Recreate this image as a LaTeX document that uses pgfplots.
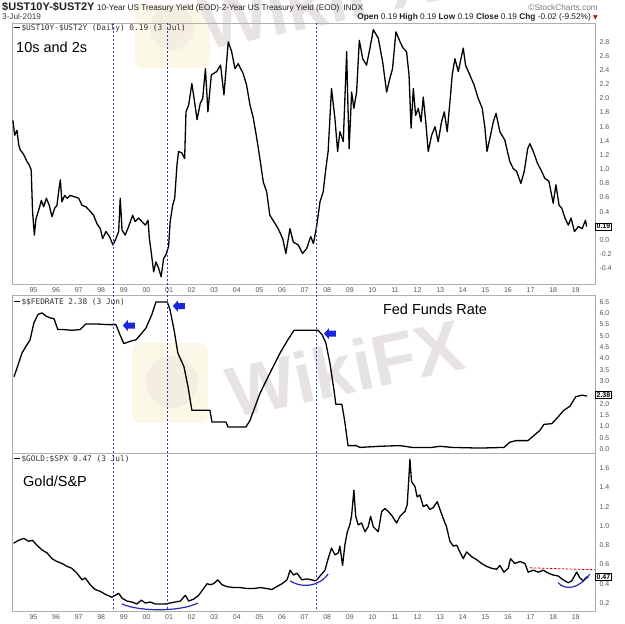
\documentclass[border=0pt]{standalone}
\usepackage{pgfplots}
\pgfplotsset{compat=1.18}
\usepackage{fontspec}
\setmainfont{Liberation Sans}
\newfontfamily\mono{DejaVu Sans Mono}
\newfontfamily\dejavu{DejaVu Sans}
\definecolor{frame}{RGB}{175,175,175}
\definecolor{ticktext}{RGB}{85,85,85}
\definecolor{navy}{RGB}{50,50,195}
\definecolor{arrowblue}{RGB}{25,40,220}
\definecolor{arcblue}{RGB}{40,40,185}
\definecolor{wm}{RGB}{231,227,227}
\definecolor{wmy}{RGB}{252,248,232}
\definecolor{wmc}{RGB}{244,238,225}
\definecolor{legtext}{RGB}{50,50,50}

\pgfplotsset{
  panel/.style={
    scale only axis, width=583pt, anchor=south west,
    xmin=1994.05, xmax=2019.85,
    axis line style={frame, line width=0.5pt},
    major tick length=0pt,
    tick style={draw=none},
    yticklabel pos=right,
    yticklabel style={font=\fontsize{7}{8}\selectfont, text=ticktext, anchor=west, xshift=1pt,
      /pgf/number format/.cd, fixed, fixed zerofill, precision=1},
    xticklabel style={font=\fontsize{7}{8}\selectfont, text=ticktext},
    /pgf/number format/assume math mode=true,
    xtick={1995,...,2019},
    xticklabels={95,96,97,98,99,00,01,02,03,04,05,06,07,08,09,10,11,12,13,14,15,16,17,18,19},
    clip=false,
  },
  dataline/.style={black, line width=1.3pt, line join=round},
}

\begin{document}
\begin{tikzpicture}
\useasboundingbox (0,0) rectangle (624pt,624pt);

% watermarks
\fill[wmy, rounded corners=8pt] (132pt,201pt) rectangle (208pt,281pt);
\fill[wmc] (172pt,242pt) circle (26pt);
\node[rotate=12, font=\fontsize{72}{72}\selectfont\bfseries, text=wm, inner sep=0] at (345pt,256pt) {WikiFX};
\fill[wmy, rounded corners=8pt] (135pt,556pt) rectangle (210pt,620pt);
\fill[wmc] (172pt,596pt) circle (22pt);
\node[rotate=12, font=\fontsize{72}{72}\selectfont\bfseries, text=wm, inner sep=0] at (318pt,624pt) {WikiFX};

% header
\node[anchor=base west, inner sep=0, text={rgb,255:red,30;green,30;blue,30}] at (2pt,613pt)
  {{\fontsize{11}{12}\selectfont\bfseries \$UST10Y-\$UST2Y}\hspace{2.5pt}{\fontsize{8.2}{9}\selectfont 10-Year US Treasury Yield (EOD)-2-Year US Treasury Yield (EOD)\hspace{4pt}INDX}};
\node[anchor=base east, inner sep=0, text={rgb,255:red,120;green,120;blue,120}] at (598pt,613pt)
  {\fontsize{8.3}{9}\selectfont \textcopyright StockCharts.com};
\node[anchor=base west, inner sep=0, text={rgb,255:red,60;green,60;blue,60}] at (2pt,604pt)
  {\fontsize{8.2}{9}\selectfont 3-Jul-2019};
\node[anchor=base east, inner sep=0, text={rgb,255:red,30;green,30;blue,30}] at (598pt,604pt)
  {\fontsize{8.3}{9}\selectfont \textbf{Open} 0.19 \textbf{High} 0.19 \textbf{Low} 0.19 \textbf{Close} 0.19 \textbf{Chg} -0.02 (-9.52\%) {\dejavu\fontsize{6}{7}\selectfont\color{red!80!black}▼}};

% ---------- top panel: 10s - 2s ----------
\begin{axis}[panel, at={(12pt,340pt)}, height=261pt,
  ymin=-0.621, ymax=3.065,
  ytick={-0.4,-0.2,0,0.4,0.6,0.8,1,1.2,1.4,1.6,1.8,2,2.2,2.4,2.6,2.8}]
\addplot[dataline] coordinates {
(1994.09,1.69) (1994.17,1.48) (1994.27,1.55) (1994.35,1.34) (1994.42,1.27) (1994.52,1.23) (1994.61,1.18)
(1994.71,1.11) (1994.81,1.06) (1994.90,0.99) (1994.96,0.40) (1995.04,0.07) (1995.11,0.30) (1995.23,0.42)
(1995.35,0.56) (1995.45,0.47) (1995.57,0.59) (1995.70,0.49) (1995.82,0.33) (1995.94,0.45) (1996.04,0.49)
(1996.12,0.70) (1996.19,0.85) (1996.26,0.54) (1996.38,0.63) (1996.49,0.59) (1996.63,0.63) (1996.82,0.61)
(1997.00,0.59) (1997.15,0.49) (1997.32,0.47) (1997.47,0.42) (1997.66,0.35) (1997.81,0.23) (1997.96,0.16)
(1998.06,0.02) (1998.21,0.12) (1998.36,0.05) (1998.52,-0.07) (1998.65,0.02) (1998.77,0.12) (1998.84,0.59)
(1998.92,0.14) (1999.06,0.07) (1999.21,0.19) (1999.39,0.35) (1999.50,0.26) (1999.65,0.31) (1999.80,0.26)
(1999.95,0.21) (2000.07,0.28) (2000.13,0.02) (2000.21,-0.17) (2000.32,-0.45) (2000.42,-0.31) (2000.54,-0.40)
(2000.65,-0.52) (2000.76,-0.26) (2000.86,-0.21) (2000.98,-0.09) (2001.05,0.26) (2001.16,0.49) (2001.25,0.59)
(2001.35,1.06) (2001.42,1.25) (2001.57,1.23) (2001.69,1.15) (2001.75,1.81) (2001.87,1.91) (2002.01,2.21)
(2002.13,1.95) (2002.24,1.70) (2002.38,1.93) (2002.49,2.00) (2002.61,2.42) (2002.72,1.81) (2002.87,2.33)
(2003.11,2.38) (2003.28,2.47) (2003.43,2.05) (2003.62,2.80) (2003.77,2.66) (2003.92,2.42) (2004.06,2.49)
(2004.28,2.35) (2004.43,2.19) (2004.58,1.91) (2004.73,1.72) (2004.88,1.44) (2005.02,1.15) (2005.17,0.82)
(2005.32,0.68) (2005.46,0.35) (2005.64,0.26) (2005.83,0.16) (2006.03,0.02) (2006.17,-0.19) (2006.35,0.16)
(2006.50,-0.03) (2006.72,-0.07) (2006.91,-0.19) (2007.09,-0.12) (2007.27,0.05) (2007.39,-0.05) (2007.54,0.21)
(2007.68,0.54) (2007.82,0.68) (2007.94,1.01) (2008.04,1.25) (2008.19,2.14) (2008.34,1.72) (2008.46,1.25)
(2008.56,1.53) (2008.71,1.39) (2008.86,2.66) (2008.90,2.09) (2008.97,1.29) (2009.08,2.09) (2009.18,1.86)
(2009.30,2.09) (2009.42,2.82) (2009.57,2.56) (2009.74,2.47) (2009.89,2.71) (2010.04,2.97) (2010.26,2.85)
(2010.45,2.52) (2010.63,2.09) (2010.77,2.28) (2010.89,2.42) (2011.04,2.94) (2011.22,2.80) (2011.36,2.71)
(2011.51,2.66) (2011.62,2.33) (2011.71,1.58) (2011.81,2.14) (2011.91,1.76) (2012.03,1.86) (2012.15,1.67)
(2012.25,2.02) (2012.36,1.67) (2012.47,1.25) (2012.62,1.48) (2012.77,1.60) (2012.91,1.39) (2013.06,1.67)
(2013.18,1.81) (2013.31,1.53) (2013.43,1.95) (2013.53,2.33) (2013.65,2.56) (2013.80,2.38) (2013.95,2.61)
(2014.02,2.71) (2014.12,2.47) (2014.31,2.33) (2014.50,2.19) (2014.68,2.00) (2014.86,1.86) (2014.98,1.58)
(2015.07,1.25) (2015.20,1.44) (2015.35,1.67) (2015.47,1.79) (2015.64,1.53) (2015.86,1.41) (2016.08,1.11)
(2016.23,1.01) (2016.38,0.97) (2016.57,0.80) (2016.72,0.97) (2016.87,1.29) (2016.97,1.36) (2017.12,1.25)
(2017.31,1.08) (2017.49,0.97) (2017.63,0.87) (2017.81,0.83) (2018.00,0.52) (2018.12,0.78) (2018.26,0.49)
(2018.38,0.45) (2018.52,0.31) (2018.67,0.21) (2018.79,0.31) (2018.94,0.12) (2019.12,0.19) (2019.28,0.16)
(2019.43,0.28) (2019.48,0.19)
};
\coordinate (v1t) at (axis cs:1998.54,3.065);
\coordinate (v2t) at (axis cs:2000.92,3.065);
\coordinate (v3t) at (axis cs:2007.52,3.065);
\node[draw=black, fill=white, inner sep=1pt, anchor=west, font=\fontsize{7}{8}\selectfont\bfseries] at (axis cs:2019.87,0.19) {0.19};
\end{axis}
\node[anchor=west, inner sep=0, text=legtext, font=\mono\fontsize{7.8}{8}\selectfont] at (14pt,596pt)
  {\textcolor{black}{\rule[0.28em]{6pt}{1.3pt}}\,\$UST10Y-\$UST2Y (Daily) 0.19 (3 Jul)};
\node[anchor=west, inner sep=0, font=\fontsize{14.5}{16}\selectfont] at (16pt,577pt) {10s and 2s};

% ---------- middle panel: Fed funds ----------
\begin{axis}[panel, at={(12pt,171pt)}, height=158pt,
  ymin=-0.177, ymax=6.81, xticklabels={},
  ytick={0,0.5,1,1.5,2,3,3.5,4,4.5,5,5.5,6,6.5}]
\addplot[dataline] coordinates {
(1994.14,3.20) (1994.32,3.72) (1994.49,4.24) (1994.67,4.54) (1994.85,4.83) (1995.02,5.58)
(1995.20,5.95) (1995.38,6.02) (1995.55,5.88) (1995.73,5.80) (1995.91,5.76) (1996.08,5.28)
(1996.35,5.28) (1996.70,5.25) (1997.06,5.28) (1997.32,5.53) (1997.76,5.53) (1998.30,5.50)
(1998.65,5.50) (1998.83,5.05) (1999.00,4.66) (1999.27,4.76) (1999.54,4.83) (1999.80,5.13)
(1999.98,5.35) (2000.24,5.95) (2000.42,6.50) (2000.92,6.50) (2001.04,6.17) (2001.22,5.28)
(2001.39,4.24) (2001.66,3.64) (2001.84,2.75) (2002.01,1.71) (2002.81,1.71) (2002.90,1.19)
(2003.52,1.19) (2003.61,0.97) (2004.40,0.97) (2004.58,1.26) (2005.02,2.45) (2005.46,3.35)
(2005.91,4.24) (2006.26,4.83) (2006.53,5.25) (2007.59,5.25) (2007.77,5.06) (2007.94,4.69)
(2008.12,3.79) (2008.30,2.60) (2008.38,1.98) (2008.65,1.98) (2008.77,1.26) (2008.92,0.15)
(2009.27,0.15) (2009.45,0.07) (2010.33,0.12) (2011.22,0.15) (2011.75,0.07) (2012.63,0.07)
(2012.99,0.12) (2013.52,0.07) (2014.76,0.04) (2015.82,0.07) (2016.08,0.30) (2016.35,0.37)
(2016.88,0.37) (2017.15,0.60) (2017.41,0.82) (2017.59,1.09) (2017.94,1.12) (2018.21,1.41)
(2018.47,1.71) (2018.74,1.89) (2019.00,2.31) (2019.27,2.38) (2019.50,2.34)
};
\coordinate (a1) at (axis cs:1999.22,5.46);
\coordinate (a2) at (axis cs:2001.43,6.32);
\coordinate (a3) at (axis cs:2008.12,5.10);
\node[draw=black, fill=white, inner sep=1pt, anchor=west, font=\fontsize{7}{8}\selectfont\bfseries] at (axis cs:2019.87,2.38) {2.38};
\end{axis}
\foreach \a in {a1,a2,a3} {
  \fill[arrowblue] (\a) ++(-6pt,0pt) -- ++(5pt,5.5pt) -- ++(0pt,-2.5pt) -- ++(7pt,0pt) -- ++(0pt,-6pt) -- ++(-7pt,0pt) -- ++(0pt,-2.5pt) -- cycle;
}
\node[anchor=west, inner sep=0, text=legtext, font=\mono\fontsize{7.8}{8}\selectfont] at (14pt,322pt)
  {\textcolor{black}{\rule[0.28em]{6pt}{1.3pt}}\,\$\$FEDRATE 2.38 (3 Jun)};
\node[inner sep=0, font=\fontsize{14.5}{16}\selectfont] at (435pt,315pt) {Fed Funds Rate};

% ---------- bottom panel: Gold / SPX ----------
\begin{axis}[panel, at={(12pt,13pt)}, height=158pt,
  ymin=0.117, ymax=1.756,
  ytick={0.2,0.4,0.6,0.8,1,1.2,1.4,1.6}]
\addplot[dataline] coordinates {
(1994.12,0.82) (1994.34,0.85) (1994.57,0.87) (1994.79,0.84) (1994.96,0.85) (1995.15,0.80) (1995.38,0.75)
(1995.60,0.72) (1995.82,0.66) (1996.04,0.63) (1996.26,0.61) (1996.48,0.58) (1996.70,0.56) (1996.92,0.51)
(1997.15,0.44) (1997.29,0.46) (1997.51,0.39) (1997.73,0.34) (1997.96,0.32) (1998.18,0.29) (1998.47,0.26)
(1998.62,0.28) (1998.77,0.30) (1998.92,0.25) (1999.14,0.22) (1999.36,0.21) (1999.58,0.19) (1999.77,0.23)
(1999.95,0.20) (2000.17,0.21) (2000.39,0.19) (2000.61,0.19) (2000.83,0.19) (2001.05,0.20) (2001.27,0.21)
(2001.50,0.22) (2001.72,0.28) (2001.87,0.22) (2002.09,0.24) (2002.31,0.28) (2002.53,0.35) (2002.68,0.40)
(2002.82,0.39) (2002.97,0.40) (2003.16,0.44) (2003.34,0.39) (2003.56,0.37) (2003.86,0.36) (2004.15,0.36)
(2004.45,0.35) (2004.74,0.35) (2005.04,0.36) (2005.33,0.35) (2005.55,0.34) (2005.77,0.37) (2006.00,0.40)
(2006.22,0.44) (2006.36,0.54) (2006.51,0.49) (2006.66,0.51) (2006.88,0.44) (2007.09,0.45) (2007.31,0.44)
(2007.50,0.43) (2007.68,0.48) (2007.90,0.54) (2008.04,0.66) (2008.19,0.77) (2008.34,0.70) (2008.49,0.72)
(2008.56,0.79) (2008.68,0.59) (2008.78,0.80) (2008.89,0.94) (2009.00,1.01) (2009.08,1.11) (2009.18,1.37)
(2009.26,1.10) (2009.37,1.01) (2009.52,1.03) (2009.67,0.94) (2009.81,0.99) (2009.92,1.10) (2010.04,0.99)
(2010.26,0.94) (2010.41,1.15) (2010.55,1.18) (2010.70,1.15) (2010.85,1.11) (2011.07,1.03) (2011.22,1.10)
(2011.44,1.15) (2011.54,1.22) (2011.62,1.53) (2011.66,1.69) (2011.73,1.46) (2011.88,1.41) (2011.98,1.30)
(2012.10,1.32) (2012.25,1.20) (2012.40,1.22) (2012.54,1.17) (2012.69,1.19) (2012.87,1.25) (2012.99,1.17)
(2013.13,1.08) (2013.28,0.99) (2013.43,0.84) (2013.58,0.79) (2013.73,0.80) (2013.87,0.73) (2014.02,0.66)
(2014.17,0.73) (2014.39,0.68) (2014.61,0.65) (2014.83,0.61) (2015.05,0.58) (2015.27,0.56) (2015.50,0.55)
(2015.64,0.59) (2015.82,0.52) (2016.01,0.56) (2016.11,0.66) (2016.30,0.61) (2016.53,0.63) (2016.75,0.61)
(2016.89,0.52) (2017.12,0.54) (2017.34,0.52) (2017.56,0.54) (2017.78,0.51) (2018.00,0.49) (2018.22,0.48)
(2018.44,0.44) (2018.67,0.41) (2018.82,0.43) (2019.04,0.52) (2019.18,0.46) (2019.33,0.43) (2019.48,0.47)
(2019.55,0.46)
};
\draw[arcblue, line width=1.2pt] (axis cs:1998.92,0.19) .. controls (axis cs:1999.7,0.108) and (axis cs:2001.5,0.108) .. (axis cs:2002.28,0.20);
\draw[arcblue, line width=1.2pt] (axis cs:2006.36,0.43) .. controls (axis cs:2006.8,0.358) and (axis cs:2007.6,0.358) .. (axis cs:2008.04,0.50);
\draw[arcblue, line width=1.2pt] (axis cs:2018.22,0.41) .. controls (axis cs:2018.5,0.335) and (axis cs:2019.1,0.335) .. (axis cs:2019.62,0.50);
\draw[red!80!black, line width=0.8pt, dash pattern=on 2.5pt off 1.5pt] (axis cs:2016.97,0.565) -- (axis cs:2019.85,0.545);
\coordinate (v1b) at (axis cs:1998.54,0.117);
\coordinate (v2b) at (axis cs:2000.92,0.117);
\coordinate (v3b) at (axis cs:2007.52,0.117);
\node[draw=black, fill=white, inner sep=1pt, anchor=west, font=\fontsize{7}{8}\selectfont\bfseries] at (axis cs:2019.87,0.47) {0.47};
\end{axis}
\node[anchor=west, inner sep=0, text=legtext, font=\mono\fontsize{7.8}{8}\selectfont] at (14pt,165pt)
  {\textcolor{black}{\rule[0.28em]{6pt}{1.3pt}}\,\$GOLD:\$SPX 0.47 (3 Jul)};
\node[anchor=west, inner sep=0, font=\fontsize{14.5}{16}\selectfont] at (23pt,143pt) {Gold/S\&P};

% vertical dashed event lines
\draw[navy, line width=0.6pt, dash pattern=on 2pt off 2pt] (v1t) -- (v1b);
\draw[navy, line width=0.6pt, dash pattern=on 2pt off 2pt] (v2t) -- (v2b);
\draw[navy, line width=0.6pt, dash pattern=on 2pt off 2pt] (v3t) -- (v3b);
\end{tikzpicture}
\end{document}
